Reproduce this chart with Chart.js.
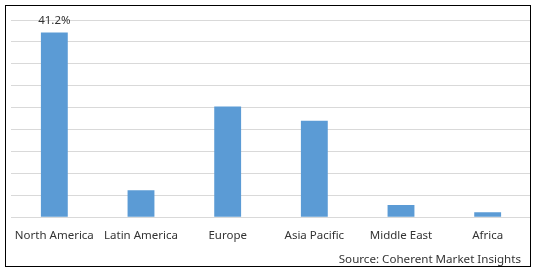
<!DOCTYPE html>
<html>
<head>
<meta charset="utf-8">
<script src="https://cdn.jsdelivr.net/npm/chart.js@4"></script>
<style>
  html, body { margin: 0; padding: 0; background: #fff; }
  #wrap { position: relative; width: 538px; height: 272px; }
</style>
</head>
<body>
<div id="wrap"><canvas id="chart" width="538" height="272"></canvas></div>
<script>
// data (share of market, %)
const regions = ["North America", "Latin America", "Europe", "Asia Pacific", "Middle East", "Africa"];
const shares = [41.2, 6.0, 24.7, 21.5, 2.7, 1.1];
const labelText = ["41.2%", "", "", "", "", ""];
const sourceText = "Source: Coherent Market Insights";

const FONT = "'Noto Sans', sans-serif";

// frame, value label and source line
const extras = {
  id: "extras",
  afterDraw(chart) {
    const ctx = chart.ctx;
    ctx.save();
    ctx.strokeStyle = "#000";
    ctx.lineWidth = 1;
    ctx.strokeRect(5.5, 5.5, 525, 261);

    ctx.fillStyle = "#333";
    ctx.font = "11.5px " + FONT;
    ctx.textAlign = "center";
    ctx.textBaseline = "alphabetic";
    const meta = chart.getDatasetMeta(0);
    meta.data.forEach((bar, i) => {
      if (labelText[i]) ctx.fillText(labelText[i], bar.x, bar.y - 9);
    });

    ctx.font = "11.6px " + FONT;
    ctx.textAlign = "right";
    ctx.textBaseline = "middle";
    ctx.fillText(sourceText, 521, 259.5);
    ctx.restore();
  }
};

new Chart(document.getElementById("chart").getContext("2d"), {
  type: "bar",
  data: {
    labels: regions,
    datasets: [
      {
        data: shares,
        backgroundColor: "#5B9BD5",
        barPercentage: 0.31,
        categoryPercentage: 1.0,
      },
    ],
  },
  options: {
    responsive: false,
    animation: false,
    layout: { padding: { left: 11, right: 7, top: 20, bottom: 17 } },
    plugins: { legend: { display: false }, tooltip: { enabled: false } },
    scales: {
      x: {
        grid: { display: false, drawTicks: false },
        border: { display: false },
        ticks: { color: "#333", font: { family: FONT, size: 11.5 }, padding: 12, maxRotation: 0 },
      },
      y: {
        min: 0,
        max: 44,
        grid: { color: "#d9d9d9", drawTicks: false },
        border: { display: false },
        ticks: { display: false, count: 10 },
      },
    },
  },
  plugins: [extras],
});
</script>
</body>
</html>
